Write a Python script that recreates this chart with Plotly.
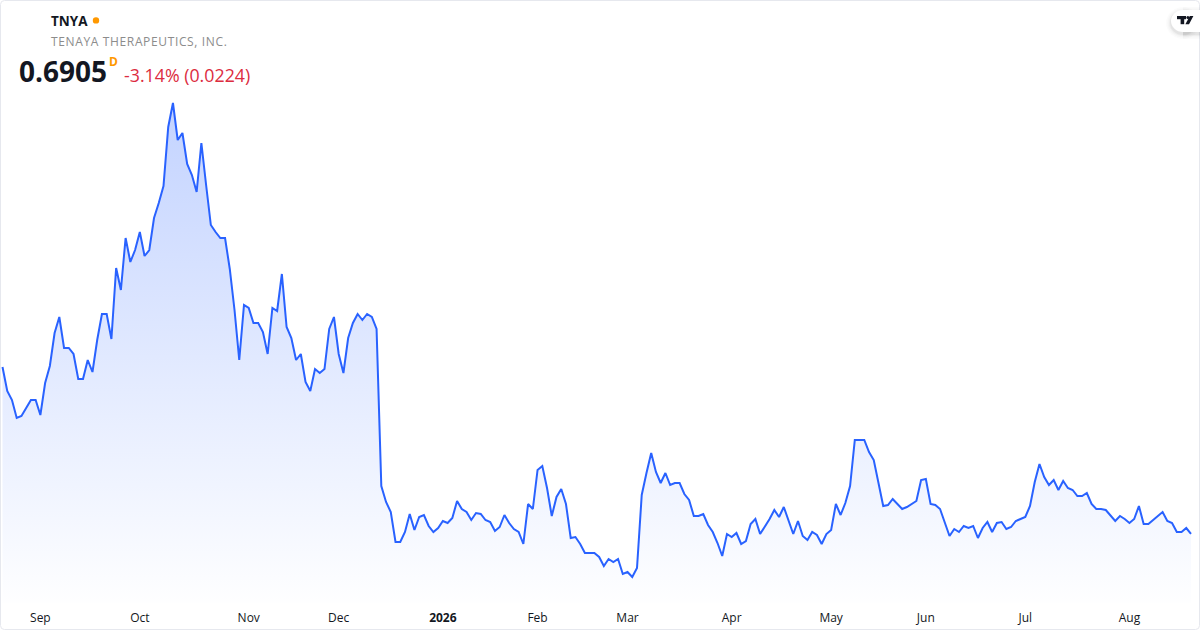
import plotly.graph_objects as go

ticker = "TNYA"
company = "TENAYA THERAPEUTICS, INC."
last_price = "0.6905"
change_text = "-3.14% (0.0224)"
interval = "D"

prices = [
 1.525,1.405,1.36,1.27,1.28,1.32,1.36,1.36,1.285,1.445,1.53,1.695,1.775,1.62,1.62,1.59,1.465,1.465,1.56,1.50,
 1.66,1.79,1.79,1.665,2.02,1.91,2.17,2.05,2.11,2.20,2.08,2.11,2.27,2.345,2.43,2.725,2.845,2.66,2.695,2.54,
 2.485,2.40,2.645,2.435,2.235,2.20,2.17,2.17,2.015,1.81,1.56,1.835,1.82,1.745,1.745,1.70,1.59,1.82,1.805,1.99,
 1.725,1.67,1.56,1.59,1.45,1.405,1.515,1.495,1.515,1.715,1.775,1.59,1.495,1.67,1.745,1.79,1.76,1.79,1.775,1.715,
 0.93,0.85,0.80,0.65,0.65,0.70,0.79,0.71,0.775,0.785,0.73,0.70,0.72,0.755,0.745,0.77,0.855,0.815,0.80,0.76,
 0.795,0.79,0.76,0.75,0.705,0.725,0.785,0.745,0.715,0.70,0.64,0.84,0.815,1.01,1.03,0.92,0.78,0.875,0.915,0.84,
 0.67,0.675,0.64,0.595,0.595,0.595,0.575,0.53,0.565,0.55,0.565,0.49,0.50,0.475,0.52,0.885,0.995,1.095,1.00,0.945,
 0.995,0.935,0.945,0.945,0.89,0.86,0.78,0.78,0.79,0.735,0.70,0.645,0.58,0.69,0.675,0.695,0.64,0.655,0.74,0.765,
 0.69,0.725,0.765,0.81,0.775,0.825,0.76,0.69,0.755,0.68,0.66,0.70,0.685,0.64,0.69,0.71,0.84,0.785,0.845,0.93,
 1.16,1.16,1.16,1.10,1.06,0.945,0.83,0.835,0.865,0.84,0.815,0.825,0.84,0.855,0.96,0.965,0.84,0.835,0.815,0.745,
 0.68,0.715,0.70,0.73,0.72,0.73,0.67,0.72,0.75,0.70,0.745,0.75,0.715,0.725,0.755,0.765,0.775,0.83,0.95,1.04,
 0.975,0.935,0.96,0.91,0.955,0.92,0.91,0.88,0.88,0.895,0.84,0.815,0.815,0.81,0.785,0.755,0.78,0.765,0.745,0.765,
 0.83,0.74,0.74,0.76,0.78,0.80,0.755,0.745,0.70,0.70,0.72,0.6905,
]
sessions = list(range(len(prices)))
tick_sessions = [8, 29, 52, 71, 93, 113, 132, 154, 175, 195, 216, 238]
tick_labels = ["Sep", "Oct", "Nov", "Dec", "<b>2026</b>", "Feb", "Mar", "Apr", "May", "Jun", "Jul", "Aug"]

LINE = "#2962ff"
FONT = "Open Sans"
W, H = 1200, 630
plot_bottom = 603

def px(x):
    return x / W

def py(y):
    return 1 - y / plot_bottom

fig = go.Figure(go.Scatter(
    x=sessions, y=prices, mode="lines",
    line=dict(color=LINE, width=2, shape="linear"),
    fill="tozeroy",
    fillgradient=dict(
        type="vertical", start=2.845, stop=0.345,
        colorscale=[[0, "rgba(41,98,255,0.28)"], [1, "rgba(41,98,255,0.005)"]],
    ),
    hoverinfo="skip",
))

def text(x, y, s, size, color, bold=False, anchor="left"):
    fig.add_annotation(
        xref="paper", yref="paper", x=px(x), y=py(y), text=f"<b>{s}</b>" if bold else s,
        showarrow=False, xanchor=anchor, yanchor="middle",
        font=dict(family=FONT, size=size, color=color), borderpad=0, borderwidth=0,
    )

text(51, 21, ticker, 13.5, "#131722", True)
text(59, 41, company, 12, "#8c8c8c")
text(19, 71, last_price, 28, "#131722", True)
text(109, 62, interval, 12, "#ff9800", True)
text(124, 75, change_text, 17.8, "#dc2d3f")

def paper_shape(kind, x0, y0, x1, y1, **kw):
    fig.add_shape(type=kind, xref="paper", yref="paper", x0=px(x0), x1=px(x1), y0=py(y0), y1=py(y1), **kw)

def paper_path(points, **kw):
    d = " ".join(("M" if i == 0 else "L") + f" {px(a)} {py(b)}" for i, (a, b) in enumerate(points)) + " Z"
    fig.add_shape(type="path", xref="paper", yref="paper", path=d, **kw)

# status dot
paper_shape("circle", 92.8, 17.2, 99.2, 23.6, fillcolor="#ff9800", line_width=0)
# card border with rounded corners
r = 4
x0, y0, x1, y1 = 0.5, 0.5, 1199.5, 629.5
border = (f"M {px(x0+r)} {py(y0)} L {px(x1-r)} {py(y0)} Q {px(x1)} {py(y0)} {px(x1)} {py(y0+r)} "
          f"L {px(x1)} {py(y1-r)} Q {px(x1)} {py(y1)} {px(x1-r)} {py(y1)} "
          f"L {px(x0+r)} {py(y1)} Q {px(x0)} {py(y1)} {px(x0)} {py(y1-r)} "
          f"L {px(x0)} {py(y0+r)} Q {px(x0)} {py(y0)} {px(x0+r)} {py(y0)} Z")
fig.add_shape(type="path", xref="paper", yref="paper", path=border,
              line=dict(color="#e6e8ee", width=1), fillcolor="rgba(0,0,0,0)")
# logo pill with soft shadow
for grow, alpha in [(5, 0.015), (3.5, 0.02), (2, 0.03), (1, 0.04)]:
    paper_shape("circle", 1171 - grow, 10 - grow + 2, 1195 + grow, 32 + grow + 2,
                fillcolor=f"rgba(0,0,0,{alpha})", line_width=0)
    paper_shape("rect", 1183, 10 - grow + 2, 1200, 32 + grow + 2,
                fillcolor=f"rgba(0,0,0,{alpha})", line_width=0)
paper_shape("circle", 1171, 10, 1195, 32, fillcolor="white", line_width=0)
paper_shape("rect", 1183, 10, 1200, 32, fillcolor="white", line_width=0)
# logo glyph
paper_shape("rect", 1177, 16, 1186, 19.2, fillcolor="#131722", line_width=0)
paper_shape("rect", 1180.6, 16, 1184.2, 24.2, fillcolor="#131722", line_width=0)
paper_shape("circle", 1186.4, 16, 1189.4, 19, fillcolor="#131722", line_width=0)
paper_path([(1189.8, 16), (1193.4, 16), (1189, 24.2), (1185.4, 24.2)], fillcolor="#131722", line_width=0)

p_top, p_bottom = 3.36, 3.36 - 0.005 * plot_bottom
fig.update_layout(
    width=W, height=H, margin=dict(l=0, r=0, t=0, b=H - plot_bottom, pad=0),
    paper_bgcolor="white", plot_bgcolor="white", showlegend=False,
    font=dict(family=FONT, size=12, color="#131722"),
    xaxis=dict(range=[-0.528, 252.9], tickmode="array", tickvals=tick_sessions, ticktext=tick_labels,
               showgrid=False, zeroline=False, showline=False, ticks="", ticklen=0,
               ticklabelstandoff=6,
               tickfont=dict(family=FONT, size=12, color="#131722")),
    yaxis=dict(range=[p_bottom, p_top], visible=False, showgrid=False, zeroline=False),
)

post = """
document.body.style.margin='0';document.body.style.overflow='hidden';
document.querySelectorAll('.annotation-text').forEach(function(t){
  if(t.textContent.indexOf('TENAYA')===0){t.style.letterSpacing='0.64px';}
});
"""
fig.write_html("out.html", config={"displayModeBar": False}, post_script=post)
